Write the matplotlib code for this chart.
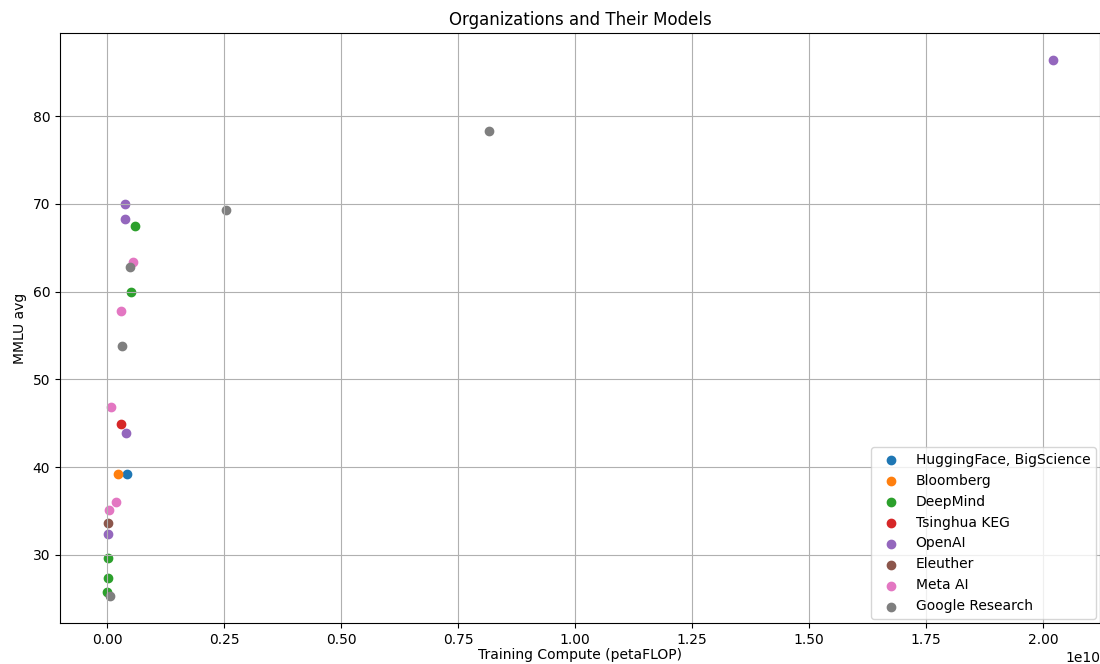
import matplotlib
matplotlib.use("Agg")
import matplotlib.pyplot as plt

# Training compute in units of 1e10 petaFLOP, MMLU avg
orgs = ["HuggingFace, BigScience", "Bloomberg", "DeepMind", "Tsinghua KEG",
        "OpenAI", "Eleuther", "Meta AI", "Google Research"]

hf_x = [0.0413]
hf_y = [39.2]

bloomberg_x = [0.022]
bloomberg_y = [39.2]

deepmind_x = [0.0598, 0.051, 0.002, 0.0007, 0.0]
deepmind_y = [67.5, 60.0, 29.6, 27.4, 25.8]

tsinghua_x = [0.0299]
tsinghua_y = [44.9]

openai_x = [0.0385, 0.0385, 0.039, 0.0007, 2.021]
openai_y = [70.0, 68.3, 43.9, 32.4, 86.4]

eleuther_x = [0.002]
eleuther_y = [33.6]

meta_x = [0.0556, 0.0285, 0.0079, 0.0185, 0.0043]
meta_y = [63.4, 57.8, 46.9, 36.0, 35.1]

google_x = [0.049, 0.0306, 0.2536, 0.816, 0.005]
google_y = [62.8, 53.8, 69.3, 78.3, 25.3]

xs = [hf_x, bloomberg_x, deepmind_x, tsinghua_x, openai_x, eleuther_x, meta_x, google_x]
ys = [hf_y, bloomberg_y, deepmind_y, tsinghua_y, openai_y, eleuther_y, meta_y, google_y]

fig = plt.figure(figsize=(11, 6.64), dpi=100)
ax = fig.add_axes([60 / 1100, (664 - 623) / 664, 1040 / 1100, 590 / 664])

for name, x, y in zip(orgs, xs, ys):
    ax.scatter([v * 1e10 for v in x], y, label=name)

ax.set_title("Organizations and Their Models")
ax.set_xlabel("Training Compute (petaFLOP)", labelpad=1)
ax.set_ylabel("MMLU avg")
ax.grid(True)
ax.legend(loc="lower right", borderaxespad=0.3)

fig.savefig("out.png", dpi=100)
